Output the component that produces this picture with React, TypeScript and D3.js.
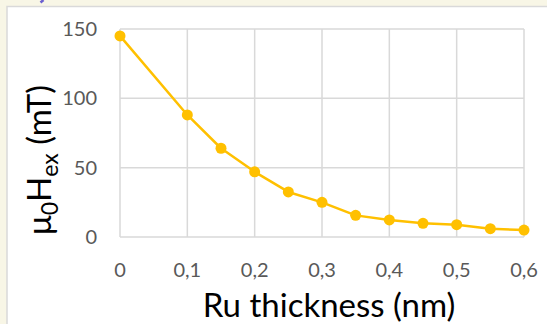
import React from "react";
import * as d3 from "d3";

const thickness = [0, 0.1, 0.15, 0.2, 0.25, 0.3, 0.35, 0.4, 0.45, 0.5, 0.55, 0.6];
const hex = [145, 88, 64, 47, 32.5, 25, 15.6, 12.3, 9.9, 8.9, 6, 5];
const xTicks = [0, 0.1, 0.2, 0.3, 0.4, 0.5, 0.6];
const yTicks = [0, 50, 100, 150];
const xTitle = "Ru thickness (nm)";

const W = 547;
const H = 324;
const FONT = "Lato, 'Open Sans', sans-serif";

export default function App() {
  const x = d3.scaleLinear().domain([0, 0.6]).range([120, 524]);
  const y = d3.scaleLinear().domain([0, 150]).range([237, 29]);
  const pts = thickness.map((t, i) => [t, hex[i]] as [number, number]);
  const line = d3
    .line<[number, number]>()
    .x((d) => x(d[0]))
    .y((d) => y(d[1]));
  const fmt = (v: number) => (v === 0 ? "0" : String(v).replace(".", ","));

  return (
    <svg
      width={W}
      height={H}
      style={{ position: "absolute", left: 0, top: 0, display: "block" }}
      fontFamily={FONT}
    >
      <rect x={0} y={0} width={W} height={H} fill="#f8f6e6" />
      <line x1={40.5} y1={2.5} x2={43.5} y2={0} stroke="#6b5fd0" strokeWidth={2.5} />
      <rect x={7} y={6.5} width={W + 10} height={H + 10} fill="#ffffff" stroke="#d9d9d9" strokeWidth={1.5} />
      {yTicks.map((t) => (
        <line key={"gy" + t} x1={x(0)} x2={x(0.6)} y1={y(t)} y2={y(t)} stroke="#d9d9d9" strokeWidth={1.5} />
      ))}
      {xTicks.map((t) => (
        <line key={"gx" + t} x1={x(t)} x2={x(t)} y1={y(0)} y2={y(150)} stroke="#d9d9d9" strokeWidth={1.5} />
      ))}
      {yTicks.map((t) => (
        <text key={"ty" + t} x={97} y={y(t)} dy="0.35em" textAnchor="end" fontSize={20} fill="#595959">
          {t}
        </text>
      ))}
      {xTicks.map((t) => (
        <text key={"tx" + t} x={x(t)} y={277} textAnchor="middle" fontSize={20} fill="#595959">
          {fmt(t)}
        </text>
      ))}
      <path d={line(pts) || ""} fill="none" stroke="#ffc000" strokeWidth={2.5} strokeLinejoin="round" />
      {pts.map((d, i) => (
        <circle key={"p" + i} cx={x(d[0])} cy={y(d[1])} r={5.5} fill="#ffc000" />
      ))}
      <text x={329} y={317} textAnchor="middle" fontSize={33} fill="#000000">
        {xTitle}
      </text>
      <text transform="translate(51,160) rotate(-90)" textAnchor="middle" fontSize={33} fill="#000000">
        <tspan>μ</tspan>
        <tspan fontSize={23} dy={7}>0</tspan>
        <tspan dy={-7}>H</tspan>
        <tspan fontSize={23} dy={7}>ex</tspan>
        <tspan dy={-7}> (mT)</tspan>
      </text>
    </svg>
  );
}
